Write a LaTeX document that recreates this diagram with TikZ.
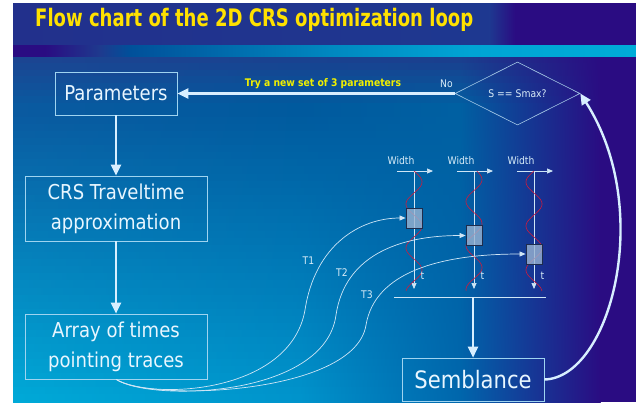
\documentclass[tikz,border=0pt]{standalone}
\usepackage{fontspec}
\setmainfont{DejaVu Sans}[FakeStretch=0.88]
\usetikzlibrary{shapes.geometric,arrows.meta}

% slide palette: background grid (rows y=57,110,402; columns x=13,300,460)
\definecolor{aT}{HTML}{1B4592}
\definecolor{bT}{HTML}{194290}
\definecolor{cT}{HTML}{1A3F8E}
\definecolor{aM}{HTML}{0A5AA0}
\definecolor{bM}{HTML}{005A9E}
\definecolor{cM}{HTML}{0060A2}
\definecolor{aB}{HTML}{00AAD8}
\definecolor{bB}{HTML}{0094CC}
\definecolor{cB}{HTML}{0066AC}
\definecolor{cR}{HTML}{2A0C82}
\definecolor{bandL}{HTML}{22308C}
\definecolor{bandM}{HTML}{1E3890}
\definecolor{sA}{HTML}{1E3A8E}
\definecolor{sB}{HTML}{00509A}
\definecolor{sC}{HTML}{0088C0}
\definecolor{sD}{HTML}{00A4D4}
\definecolor{stripeR}{HTML}{00ACD8}
\definecolor{titlec}{HTML}{FFE100}
\definecolor{tryc}{HTML}{F0F000}
\definecolor{boxline}{HTML}{9FD4F0}
\definecolor{boxtext}{HTML}{E8F6FF}
\definecolor{arrowc}{HTML}{D8EFFF}
\definecolor{thinc}{HTML}{CFE6F6}
\definecolor{smallc}{HTML}{D8ECF8}
\definecolor{wavec}{HTML}{D01A3C}
\definecolor{wboxline}{HTML}{1E2C4C}
\definecolor{wboxfill}{HTML}{9AB4D2}
\definecolor{diac}{HTML}{A8CCE8}

\tikzset{
  flowbox/.style={draw=boxline, line width=0.6pt, text=boxtext, align=center,
    font=\fontsize{20.5}{30}\selectfont, inner sep=0pt},
  flowarrow/.style={draw=arrowc, line width=2.4pt, -{Triangle[length=11pt,width=10pt]}},
  thinline/.style={draw=thinc, line width=0.7pt},
  thinarrow/.style={thinline, -{Triangle[length=6pt,width=5pt]}},
  wave/.style={draw=wavec, line width=0.6pt},
  wbox/.style={draw=wboxline, fill=wboxfill, fill opacity=0.8, line width=0.8pt,
    minimum width=16pt, minimum height=20pt, inner sep=0pt},
  small/.style={text=smallc, font=\fontsize{10.5}{12}\selectfont, inner sep=0pt},
}

% one horizontal band of the background: y1, y2, colours at x=13, 300, 460
\newcommand\bgrow[5]{%
  \shade[left color=#3, right color=#4] (13,#1) rectangle (300.5,#2);
  \shade[left color=#4, right color=#5] (300,#1) rectangle (460.5,#2);
  \shade[left color=#5, right color=cR] (460,#1) rectangle (600.5,#2);}

\begin{document}
\begin{tikzpicture}[x=1pt,y=-1pt]
\useasboundingbox (0,0) rectangle (636,402);
\fill[white] (0,0) rectangle (636,402);

% ---- background of the slide ----
% title band
\shade[left color=bandL, right color=bandM] (13,3) rectangle (490,45.3);
\shade[left color=bandM, right color=cR] (489.5,3) rectangle (515,45.3);
\fill[cR] (514.5,3) rectangle (636,45.3);
% coloured stripe under the title
\fill[cR] (13,45) rectangle (45.5,57.3);
\shade[left color=cR, right color=sA] (45,45) rectangle (100.5,57.3);
\shade[left color=sA, right color=sB] (100,45) rectangle (130.5,57.3);
\shade[left color=sB, right color=sC] (130,45) rectangle (330.5,57.3);
\shade[left color=sC, right color=sD] (330,45) rectangle (470.5,57.3);
\shade[left color=sD, right color=stripeR] (470,45) rectangle (636,57.3);
% main area
\foreach \i in {0,...,7} {
  \pgfmathsetmacro\ya{57+\i*6.625}
  \pgfmathsetmacro\yb{\ya+7.2}
  \pgfmathtruncatemacro\p{100-\i*100/7}
  \bgrow{\ya}{\yb}{aT!\p!aM}{bT!\p!bM}{cT!\p!cM}
}
\foreach \i in {0,...,41} {
  \pgfmathsetmacro\ya{110+\i*7.12}
  \pgfmathsetmacro\yb{\ya+7.5}
  \pgfmathtruncatemacro\p{100-\i*100/41}
  \bgrow{\ya}{\yb}{aM!\p!aB}{bM!\p!bB}{cM!\p!cB}
}
\fill[cR] (600,57) rectangle (636,402);

% ---- title ----
\node[anchor=base west, inner sep=0pt, text=titlec] (title) at (35,26)
  {\resizebox{438pt}{18.3pt}{\bfseries\fontsize{24}{24}\selectfont Flow chart of the 2D CRS optimization loop}};

% ---- flow chart boxes ----
\node[flowbox, minimum width=122pt, minimum height=43pt] (par) at (116,93.5) {Parameters};
\node[flowbox, minimum width=182pt, minimum height=65pt] (crs) at (116,208.5) {CRS Traveltime\\approximation};
\node[flowbox, minimum width=182pt, minimum height=65pt] (arr) at (116,346.5) {Array of times\\pointing traces};
\node[flowbox, minimum width=142pt, minimum height=43pt, font=\fontsize{24}{30}\selectfont] (sem) at (473,379.5) {Semblance};
\node[draw=diac, line width=0.6pt, diamond, aspect=2, inner sep=0pt,
      minimum width=125pt, minimum height=63pt, text=smallc,
      font=\fontsize{10.5}{12}\selectfont] (dia) at (517.5,93.5) {S == Smax?};

% ---- main connectors ----
\draw[flowarrow] (dia.west) -- (par.east);
\draw[flowarrow] (par.south) -- (crs.north);
\draw[flowarrow] (crs.south) -- (arr.north);
\draw[flowarrow] (sem.east) .. controls (610,378) and (655,210) .. (dia.east);

\node[font=\bfseries\fontsize{10.5}{12}\selectfont, text=tryc, inner sep=0pt] (try) at (323,83.5) {Try a new set of 3 parameters};
\node[small] (no) at (446.5,83.5) {No};

% ---- seismic traces ----
\foreach \n/\xc/\xw/\ph in {1/414/401/0, 2/474/461/20, 3/534/521/180} {
  \coordinate (top\n) at (\xc,171);
  \coordinate (bot\n) at (\xc,289);
  \coordinate (wl\n) at (\xc-17,171);
  \coordinate (wr\n) at (\xc+19,171);
  \draw[thinarrow] (wl\n) -- (wr\n);
  \node[small] (w\n) at (\xw,161) {Width};
  \draw[thinarrow] (top\n) -- (bot\n);
  \draw[wave] plot[variable=\t, domain=171:291, samples=120, smooth]
    ({\xc+8*sin((\t-171)*8.1818+\ph)},\t);
  \node[small] (t\n) at (\xc+8.5,276) {t};
}
\node[wbox] (b1) at (414,218) {};
\node[wbox] (b2) at (474,235.5) {};
\node[wbox] (b3) at (534,254) {};

% stack line and arrow into the semblance box
\coordinate (hl1) at (394,297);
\coordinate (hl2) at (546,297);
\coordinate (hm) at (473,297);
\draw[thinline] (hl1) -- (hl2);
\draw[flowarrow] (hm) -- (sem.north);

% ---- traveltime curves ----
\draw[thinarrow] (arr.south) .. controls (150,400) and (290,395) .. (305,310)
  .. controls (315,245) and (360,218) .. (b1.west);
\draw[thinarrow] (arr.south) .. controls (150,402) and (325,398) .. (336,315)
  .. controls (345,255) and (400,235.5) .. (b2.west);
\draw[thinarrow] (arr.south) .. controls (150,402) and (355,395) .. (366,325)
  .. controls (375,272) and (440,254) .. (b3.west);
\node[small] (T1) at (308.5,261) {T1};
\node[small] (T2) at (342,273) {T2};
\node[small] (T3) at (367,295) {T3};
\end{tikzpicture}
\end{document}
